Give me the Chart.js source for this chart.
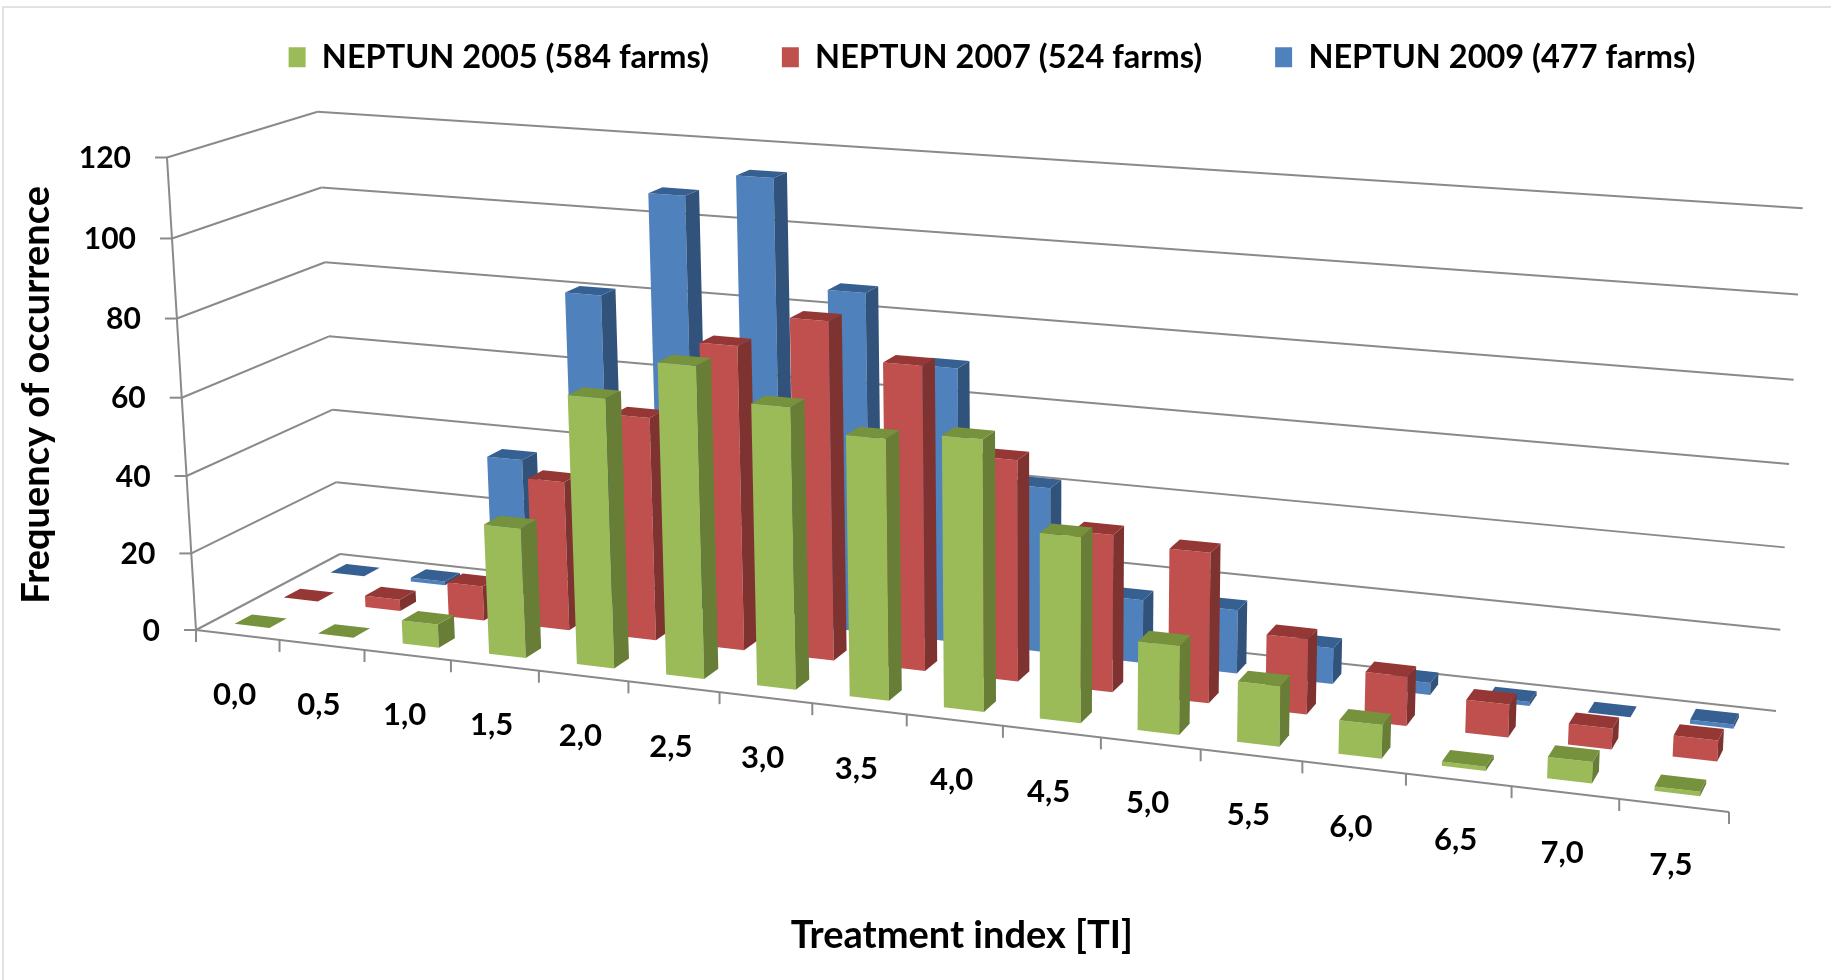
<!DOCTYPE html>
<html>
<head>
<meta charset="utf-8">
<title>Treatment index</title>
<script src="https://cdn.jsdelivr.net/npm/chart.js@4"></script>
<style>
html,body{margin:0;padding:0;background:#fff;overflow:hidden}
canvas{display:block}
</style>
</head>
<body>
<canvas id="mainChart" width="1831" height="980"></canvas>
<script>
const categories=['0,0','0,5','1,0','1,5','2,0','2,5','3,0','3,5','4,0','4,5','5,0','5,5','6,0','6,5','7,0','7,5'];
const seriesNames=['NEPTUN 2005 (584 farms)','NEPTUN 2007 (524 farms)','NEPTUN 2009 (477 farms)'];
const neptun2005=[0,0,6,33,67.5,77.5,69.5,64,66,45,21.5,14.5,8,1,5,1];
const neptun2007=[0,3,9,38.5,57,77,85,76,55,39,37,18.5,12,8,5,5];
const neptun2009=[0,1,36,81,108,114,87,70,42,16,16,9,3,1,0,1];
const frontColors=['#9BBB59','#C0504D','#4F81BD'];
const topColors=['#76923C','#953735','#376092'];
const sideColors=['#687E37','#7F3331','#31527A'];
const AXIS_GREY='#8A8A8A';
const FONT='Lato';

// corners of the 3d box, the rest follows from them
const O={x:196,y:630},A={x:1729,y:812},C={x:340,y:554},D={x:1776,y:711},B={x:167,y:157.5};
const dx1=A.x-D.x,dy1=A.y-D.y,dx2=C.x-D.x,dy2=C.y-D.y;
const sx=O.x-A.x+D.x-C.x,sy=O.y-A.y+D.y-C.y;
const den=dx1*dy2-dy1*dx2;
const g=(sx*dy2-sy*dx2)/den;
const k=(dx1*sy-dy1*sx)/den;
const h=-0.033;
const ax=A.x*(1+g)-O.x,ay=A.y*(1+g)-O.y;
const bx=B.x*(1+h)-O.x,by=B.y*(1+h)-O.y;
const cx=C.x*(1+k)-O.x,cy=C.y*(1+k)-O.y;
const BAR_SHIFT=-0.0015;

function project(u,v,z){
    const w=1+g*u+h*v+k*z;
    return {x:(O.x+ax*u+bx*v+cx*z)/w,y:(O.y+ay*u+by*v+cy*z)/w};
}

function poly(ctx,pts,fill){
    ctx.beginPath();
    pts.forEach((p,i)=>{ if(i===0) ctx.moveTo(p.x,p.y); else ctx.lineTo(p.x,p.y); });
    ctx.closePath();
    ctx.fillStyle=fill;
    ctx.fill();
}

function line(ctx,p,q){
    ctx.beginPath();
    ctx.moveTo(p.x,p.y);
    ctx.lineTo(q.x,q.y);
    ctx.stroke();
}

const box3d={
    id:'box3d',
    afterLayout(chart){
        // legend sits higher and further right than the library would put it
        chart.legend.left+=75;
        chart.legend.right+=75;
        chart.legend.top=-32;
    },
    beforeDatasetsDraw(chart){
        const ctx=chart.ctx;
        const yScale=chart.scales.y,xScale=chart.scales.x,area=chart.chartArea;
        ctx.save();
        // frame of the picture
        ctx.strokeStyle='#E2E2E2';
        ctx.lineWidth=2;
        ctx.beginPath();
        ctx.moveTo(3,980);
        ctx.lineTo(3,7);
        ctx.lineTo(1831,7);
        ctx.stroke();

        ctx.strokeStyle=AXIS_GREY;
        ctx.lineWidth=2;
        ctx.fillStyle='#000';
        ctx.textBaseline='middle';
        yScale.ticks.forEach(t=>{
            const v=(area.bottom-yScale.getPixelForValue(t.value))/area.height;
            const front=project(0,v,0),back=project(0,v,1),right=project(1,v,1);
            line(ctx,front,back);
            line(ctx,back,right);
            line(ctx,{x:front.x-12,y:front.y},front);
            ctx.textAlign='right';
            ctx.font='bold 30px '+FONT;
            ctx.fillText(t.label,front.x-36,front.y+1);
        });
        line(ctx,project(0,0,0),project(0,1,0));
        line(ctx,project(0,0,0),project(1,0,0));
        for(let i=0;i<=categories.length;i++){
            const u=i/categories.length;
            const p=project(u,0,0);
            line(ctx,p,{x:p.x,y:p.y+12});
        }
        ctx.textAlign='center';
        categories.forEach((c,i)=>{
            const u=(xScale.getPixelForValue(i)-area.left)/area.width;
            const p=project(u,0,0);
            ctx.font='bold 31px '+FONT;
            ctx.fillText(xScale.getLabelForValue(i),p.x-3,p.y+60);
        });
        ctx.restore();
    },
    // every bar element is drawn as a block in place of the flat one
    beforeDatasetDraw(chart,args){
        const ctx=chart.ctx,area=chart.chartArea;
        const s=args.index;
        const zMid=(s+0.5)/chart.data.datasets.length;
        const z0=zMid-0.058,z1=zMid+0.058;
        ctx.save();
        args.meta.data.forEach(el=>{
            const u0=(el.x-el.width/2-area.left)/area.width+BAR_SHIFT;
            const u1=(el.x+el.width/2-area.left)/area.width+BAR_SHIFT;
            const v0=(area.bottom-el.base)/area.height;
            const v1=(area.bottom-el.y)/area.height;
            const fbl=project(u0,v0,z0),fbr=project(u1,v0,z0);
            const ftl=project(u0,v1,z0),ftr=project(u1,v1,z0);
            const bbr=project(u1,v0,z1),btr=project(u1,v1,z1),btl=project(u0,v1,z1);
            poly(ctx,[fbl,fbr,ftr,ftl],frontColors[s]);
            poly(ctx,[fbr,bbr,btr,ftr],sideColors[s]);
            poly(ctx,[ftl,ftr,btr,btl],topColors[s]);
        });
        ctx.restore();
        return false;
    }
};

new Chart(document.getElementById('mainChart').getContext('2d'),{
    type:'bar',
    data:{
        labels:categories,
        datasets:[
            {label:seriesNames[0],data:neptun2005,backgroundColor:frontColors[0]},
            {label:seriesNames[1],data:neptun2007,backgroundColor:frontColors[1]},
            {label:seriesNames[2],data:neptun2009,backgroundColor:frontColors[2]}
        ]
    },
    options:{
        responsive:false,
        animation:false,
        grouped:false,
        barPercentage:0.42,
        categoryPercentage:1,
        layout:{padding:{left:14,right:11,top:0,bottom:21}},
        plugins:{
            tooltip:{enabled:false},
            legend:{
                position:'top',
                labels:{
                    boxWidth:17,
                    boxHeight:20,
                    padding:73,
                    color:'#000',
                    font:{family:FONT,size:32.5,weight:'bold'}
                }
            }
        },
        scales:{
            x:{
                grid:{display:false},
                border:{display:false},
                ticks:{display:false},
                title:{display:true,text:'Treatment index [TI]',color:'#000',
                    font:{family:FONT,size:38,weight:'bold'},padding:{top:231,bottom:0}}
            },
            y:{
                min:0,
                max:120,
                grid:{display:false},
                border:{display:false},
                ticks:{display:false,stepSize:20},
                title:{display:true,text:'Frequency of occurrence',color:'#000',
                    font:{family:FONT,size:38,weight:'bold'},padding:{top:0,bottom:36}}
            }
        }
    },
    plugins:[box3d]
});
</script>
</body>
</html>
